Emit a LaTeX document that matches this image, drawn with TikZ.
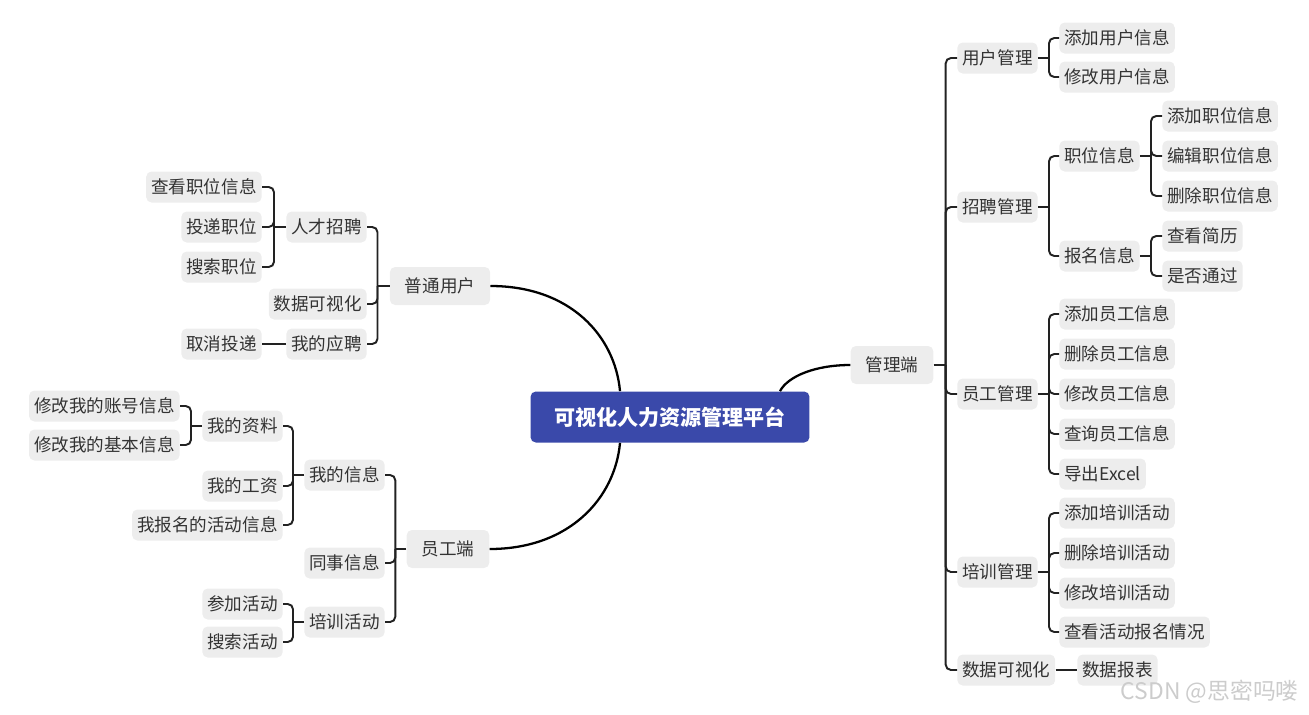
\documentclass[tikz,border=0pt]{standalone}
\usepackage{fontspec}
\setmainfont{Noto Sans CJK SC}
\usepackage{xcolor}
\definecolor{rootblue}{RGB}{58,73,170}
\definecolor{boxgray}{RGB}{237,237,237}
\definecolor{txtgray}{RGB}{51,51,51}
\definecolor{lineblk}{RGB}{34,34,34}

\begin{document}
\begin{tikzpicture}[
    x=0.02cm, y=-0.02cm,
    box/.style={fill=boxgray,rounded corners=3pt,minimum height=0.62cm,inner xsep=0.1cm,inner ysep=0pt,text=txtgray,font=\fontsize{10}{12}\selectfont},
    lbox/.style={box,anchor=east},
    rbox/.style={box,anchor=west},
    mid/.style={box,minimum height=0.76cm,inner xsep=0.3cm},
    rootbox/.style={fill=rootblue,rounded corners=3pt,minimum width=5.58cm,minimum height=1.02cm,text=white,font=\fontsize{12}{14}\selectfont\bfseries},
    conn/.style={draw=lineblk,line width=1.1pt,rounded corners=3pt},
    curve/.style={draw=black,line width=1.3pt}
  ]
    \useasboundingbox (0,0) rectangle (1309,714);

    % Root
    \node[rootbox] (root) at (670,417) {可视化人力资源管理平台};

    % Branch: user side
    \node[mid] (user) at (440,286) {普通用户};
    \node[lbox] (recruit) at (367,227) {人才招聘};
    \node[lbox] (dataviz) at (367,304) {数据可视化};
    \node[lbox] (apply) at (367,344) {我的应聘};
    \node[lbox] (viewjob) at (262,187) {查看职位信息};
    \node[lbox] (postjob) at (262,227) {投递职位};
    \node[lbox] (findjob) at (262,267) {搜索职位};
    \node[lbox] (cancel) at (262,344) {取消投递};

    % Branch: staff side
    \node[mid] (staff) at (448,549) {员工端};
    \node[lbox] (myinfo) at (385,475) {我的信息};
    \node[lbox] (peers) at (385,563) {同事信息};
    \node[lbox] (train) at (385,622) {培训活动};
    \node[lbox] (profile) at (283,426) {我的资料};
    \node[lbox] (salary) at (283,486) {我的工资};
    \node[lbox] (myevents) at (283,525) {我报名的活动信息};
    \node[lbox] (account) at (180,406) {修改我的账号信息};
    \node[lbox] (basic) at (180,445) {修改我的基本信息};
    \node[lbox] (join) at (283,604) {参加活动};
    \node[lbox] (search) at (283,642) {搜索活动};

    % Branch: admin side
    \node[mid] (admin) at (892,365) {管理端};
    \node[rbox] (usermg) at (957,58) {用户管理};
    \node[rbox] (hiremg) at (957,207) {招聘管理};
    \node[rbox] (empmg) at (957,394) {员工管理};
    \node[rbox] (trainmg) at (957,572) {培训管理};
    \node[rbox] (viz) at (957,670) {数据可视化};

    \node[rbox] (adduser) at (1059,38) {添加用户信息};
    \node[rbox] (edituser) at (1059,77) {修改用户信息};
    \node[rbox] (jobs) at (1059,156) {职位信息};
    \node[rbox] (signup) at (1059,256) {报名信息};
    \node[rbox] (addjob) at (1162,116) {添加职位信息};
    \node[rbox] (editjob) at (1162,156) {编辑职位信息};
    \node[rbox] (deljob) at (1162,196) {删除职位信息};
    \node[rbox] (resume) at (1162,236) {查看简历};
    \node[rbox] (pass) at (1162,276) {是否通过};

    \node[rbox] (addemp) at (1059,314) {添加员工信息};
    \node[rbox] (delemp) at (1059,354) {删除员工信息};
    \node[rbox] (modemp) at (1059,394) {修改员工信息};
    \node[rbox] (qryemp) at (1059,434) {查询员工信息};
    \node[rbox] (export) at (1059,474) {导出Excel};

    \node[rbox] (addtr) at (1059,513) {添加培训活动};
    \node[rbox] (deltr) at (1059,553) {删除培训活动};
    \node[rbox] (modtr) at (1059,593) {修改培训活动};
    \node[rbox] (viewtr) at (1059,632) {查看活动报名情况};
    \node[rbox] (report) at (1077,670) {数据报表};

    % Watermark
    \node[anchor=east,text=gray!40,font=\fontsize{13}{15}\selectfont] (mark) at (1305,692) {CSDN @思密吗喽};

    % Curves from the root
    \draw[curve] (user.east) .. controls +(80,0) and +(-5,-55) .. ([xshift=-1cm]root.north);
    \draw[curve] (staff.east) .. controls +(80,0) and +(-5,55) .. ([xshift=-1cm]root.south);
    \draw[curve] (admin.west) .. controls +(-35,0) and +(8,-15) .. ([xshift=2.2cm]root.north);

    % Brackets, left
    \draw[conn] (user.west) -- ++(-12,0) coordinate (juser);
    \foreach \c in {recruit,dataviz,apply}
      \draw[conn] (juser) |- (\c.east);
    \draw[conn] (recruit.west) -- ++(-12,0) coordinate (jrecruit);
    \foreach \c in {viewjob,postjob,findjob}
      \draw[conn] (jrecruit) |- (\c.east);
    \draw[conn] (apply.west) -- (cancel.east);
    \draw[conn] (staff.west) -- ++(-11,0) coordinate (jstaff);
    \foreach \c in {myinfo,peers,train}
      \draw[conn] (jstaff) |- (\c.east);
    \draw[conn] (myinfo.west) -- ++(-11,0) coordinate (jmyinfo);
    \foreach \c in {profile,salary,myevents}
      \draw[conn] (jmyinfo) |- (\c.east);
    \draw[conn] (profile.west) -- ++(-11,0) coordinate (jprofile);
    \foreach \c in {account,basic}
      \draw[conn] (jprofile) |- (\c.east);
    \draw[conn] (train.west) -- ++(-11,0) coordinate (jtrain);
    \foreach \c in {join,search}
      \draw[conn] (jtrain) |- (\c.east);

    % Brackets, right
    \draw[conn] (admin.east) -- ++(12,0) coordinate (jadmin);
    \foreach \c in {usermg,hiremg,empmg,trainmg,viz}
      \draw[conn] (jadmin) |- (\c.west);
    \draw[conn] (usermg.east) -- ++(11,0) coordinate (jusermg);
    \foreach \c in {adduser,edituser}
      \draw[conn] (jusermg) |- (\c.west);
    \draw[conn] (hiremg.east) -- ++(11,0) coordinate (jhiremg);
    \foreach \c in {jobs,signup}
      \draw[conn] (jhiremg) |- (\c.west);
    \draw[conn] (jobs.east) -- ++(11,0) coordinate (jjobs);
    \foreach \c in {addjob,editjob,deljob}
      \draw[conn] (jjobs) |- (\c.west);
    \draw[conn] (signup.east) -- ++(11,0) coordinate (jsignup);
    \foreach \c in {resume,pass}
      \draw[conn] (jsignup) |- (\c.west);
    \draw[conn] (empmg.east) -- ++(11,0) coordinate (jempmg);
    \foreach \c in {addemp,delemp,modemp,qryemp,export}
      \draw[conn] (jempmg) |- (\c.west);
    \draw[conn] (trainmg.east) -- ++(11,0) coordinate (jtrainmg);
    \foreach \c in {addtr,deltr,modtr,viewtr}
      \draw[conn] (jtrainmg) |- (\c.west);
    \draw[conn] (viz.east) -- (report.west);
  \end{tikzpicture}
\end{document}
